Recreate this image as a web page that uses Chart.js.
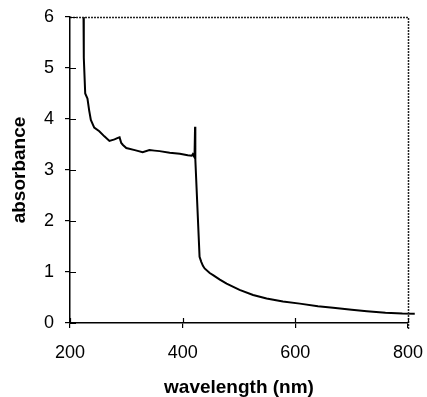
<!DOCTYPE html>
<html>
<head>
<meta charset="utf-8">
<script src="https://cdn.jsdelivr.net/npm/chart.js@4.4.0/dist/chart.umd.min.js"></script>
<style>
  html, body { margin: 0; padding: 0; background: #fff; }
  #wrap { width: 427px; height: 397px; }
</style>
</head>
<body>
<div id="wrap"><canvas id="absChart" width="427" height="397"></canvas></div>
<script>
// Spectrum
const wavelength = [224, 224.5, 227, 231, 234, 237, 243, 252, 261, 270, 279, 285, 288, 291, 294, 300,
  315, 329, 341, 350, 359, 377, 395, 409, 416, 418, 421, 422, 422.5, 430, 433, 436, 439, 448, 454,
  466, 478, 501, 525, 549, 578, 608, 640, 667, 700, 727, 760, 790, 812];
const absorbance = [6.0, 5.2, 4.5, 4.4, 4.17, 3.98, 3.83, 3.76, 3.66, 3.57, 3.6, 3.63, 3.64, 3.53, 3.49, 3.43,
  3.39, 3.35, 3.39, 3.38, 3.37, 3.34, 3.32, 3.29, 3.28, 3.31, 3.25, 3.85, 3.2, 1.3, 1.2, 1.12, 1.07, 0.98, 0.94,
  0.85, 0.77, 0.65, 0.55, 0.48, 0.42, 0.38, 0.33, 0.3, 0.26, 0.23, 0.2, 0.185, 0.18];
const xTicks = [200, 400, 600, 800];
const yTicks = [0, 1, 2, 3, 4, 5, 6];

const fontFamily = '"Liberation Sans", Arial, sans-serif';

const points = wavelength.map((w, i) => ({ x: w, y: absorbance[i] }));

// dotted frame on top/right + tick marks that cross the left and bottom axes
const frameAndTicks = {
  id: 'frameAndTicks',
  afterDraw(chart) {
    const { ctx, chartArea, scales } = chart;
    const { left, right, top, bottom } = chartArea;
    ctx.save();
    ctx.strokeStyle = '#222';
    ctx.lineWidth = 1.5;
    ctx.setLineDash([2, 1]);
    ctx.beginPath();
    ctx.moveTo(left, top + 0.5);
    ctx.lineTo(right + 0.5, top + 0.5);
    ctx.lineTo(right + 0.5, bottom + 6);
    ctx.stroke();
    ctx.setLineDash([]);
    ctx.strokeStyle = '#000';
    ctx.lineWidth = 1.2;
    ctx.beginPath();
    xTicks.forEach(v => {
      const px = Math.round(scales.x.getPixelForValue(v)) + 0.5;
      ctx.moveTo(px, bottom);
      ctx.lineTo(px, bottom - 5);
    });
    yTicks.forEach(v => {
      const py = Math.round(scales.y.getPixelForValue(v)) + 0.5;
      ctx.moveTo(left, py);
      ctx.lineTo(left + 6, py);
    });
    ctx.stroke();
    ctx.restore();
  }
};

new Chart(document.getElementById('absChart'), {
  type: 'line',
  data: {
    datasets: [{
      data: points,
      borderColor: '#000',
      borderWidth: 2,
      pointRadius: 0,
      tension: 0,
      fill: false,
      clip: { left: 0, top: 0, right: 10, bottom: 0 }
    }]
  },
  options: {
    responsive: false,
    animation: false,
    layout: { padding: { top: 17, right: 19, left: 0, bottom: 0 } },
    plugins: {
      legend: { display: false },
      tooltip: { enabled: false }
    },
    scales: {
      x: {
        type: 'linear',
        position: 'bottom',
        min: 200,
        max: 800,
        afterFit: s => {
          s.height = 74;
          s.paddingLeft = 0;
          s.paddingRight = 0;
        },
        afterBuildTicks: s => { s.ticks = xTicks.map(v => ({ value: v })); },
        ticks: {
          color: '#000',
          font: { family: fontFamily, size: 18 },
          padding: 14,
          maxRotation: 0
        },
        grid: { drawOnChartArea: false, color: '#000', tickLength: 5, lineWidth: 1.2 },
        border: { color: '#000', width: 1.5 },
        title: {
          display: true,
          text: 'wavelength (nm)',
          color: '#000',
          font: { family: fontFamily, size: 19, weight: 'bold', lineHeight: 1 },
          padding: { top: 0, bottom: 0 }
        }
      },
      y: {
        type: 'linear',
        position: 'left',
        min: 0,
        max: 6,
        afterFit: s => {
          s.width = 70;
          s.paddingTop = 0;
          s.paddingBottom = 0;
        },
        afterBuildTicks: s => { s.ticks = yTicks.map(v => ({ value: v })); },
        ticks: {
          color: '#000',
          font: { family: fontFamily, size: 18 },
          padding: 11
        },
        grid: { drawOnChartArea: false, color: '#000', tickLength: 5, lineWidth: 1.2 },
        border: { color: '#000', width: 1.5 },
        title: {
          display: true,
          text: 'absorbance',
          color: '#000',
          font: { family: fontFamily, size: 19, weight: 'bold', lineHeight: 1 },
          padding: { top: 10, bottom: 0 }
        }
      }
    }
  },
  plugins: [frameAndTicks]
});
</script>
</body>
</html>
